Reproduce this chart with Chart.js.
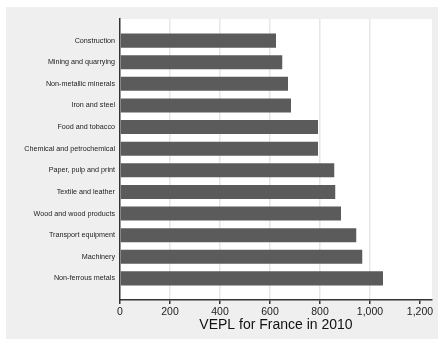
<!DOCTYPE html>
<html>
<head>
<meta charset="utf-8">
<script src="https://cdn.jsdelivr.net/npm/chart.js@4"></script>
<style>
  html, body { margin: 0; padding: 0; background: #fff; }
  #wrap { width: 438px; height: 340px; }
</style>
</head>
<body>
<div id="wrap"><canvas id="myChart" width="438" height="340"></canvas></div>
<script>
// sectors, top to bottom
const sectors = [
  'Construction',
  'Mining and quarrying',
  'Non-metallic minerals',
  'Iron and steel',
  'Food and tobacco',
  'Chemical and petrochemical',
  'Paper, pulp and print',
  'Textile and leather',
  'Wood and wood products',
  'Transport equipment',
  'Machinery',
  'Non-ferrous metals',
];
const vepl = [624, 649, 672, 684, 792, 792, 857, 861, 884, 945, 969, 1052];
const xTicks = [0, 200, 400, 600, 800, 1000, 1200];

const ctx = document.querySelector('#myChart').getContext('2d');

// grey page behind, white plot region
const backdrop = {
  id: 'backdrop',
  beforeDraw(chart) {
    const c = chart.ctx;
    const a = chart.chartArea;
    c.save();
    c.fillStyle = '#efefef';
    c.fillRect(6, 7, chart.width - 6, chart.height - 8);
    c.fillStyle = '#ffffff';
    c.fillRect(a.left, a.top, a.right - a.left, a.bottom - a.top);
    c.restore();
  },
};

const data = {
  datasets: [
    {
      data: vepl.map((v, i) => ({ x: v, y: i + 1 })),
      backgroundColor: '#5b5b5b',
      borderWidth: 0,
      barPercentage: 0.65,
      categoryPercentage: 1,
    },
  ],
};

const config = {
  type: 'bar',
  data: data,
  options: {
    indexAxis: 'y',
    responsive: false,
    animation: false,
    layout: { padding: { top: 19, right: 6, left: 0, bottom: 0 } },
    plugins: {
      legend: { display: false },
      tooltip: { enabled: false },
    },
    scales: {
      x: {
        type: 'linear',
        min: 0,
        max: 1248,
        afterBuildTicks: (scale) => {
          scale.ticks = xTicks.map((v) => ({ value: v }));
        },
        afterFit: (scale) => {
          scale.height = 40;
        },
        grid: {
          color: (c) =>
            c.tick && (c.tick.value === 0 || c.tick.value === 1200)
              ? 'rgba(0,0,0,0)'
              : '#e6e6e6',
          lineWidth: 1.5,
          tickColor: '#333',
          tickLength: 4,
        },
        border: { color: '#333', width: 1.5 },
        ticks: {
          color: '#222',
          padding: 2,
          maxRotation: 0,
          font: { family: 'Liberation Sans', size: 10.5 },
          callback: (value) => value.toLocaleString('en-US'),
        },
        title: {
          display: true,
          text: 'VEPL for France in 2010',
          color: '#111',
          padding: { top: 1, bottom: 6 },
          font: { family: 'Liberation Sans', size: 14 },
        },
      },
      y: {
        type: 'linear',
        reverse: true,
        offset: false,
        min: 0,
        max: 13,
        afterBuildTicks: (scale) => {
          scale.ticks = sectors.map((s, i) => ({ value: i + 1 }));
        },
        afterFit: (scale) => {
          scale.width = 120;
        },
        grid: {
          color: 'rgba(0,0,0,0)',
          drawTicks: false,
          offset: false,
        },
        border: { color: '#333', width: 1.5 },
        ticks: {
          autoSkip: false,
          color: '#222',
          padding: 5,
          font: { family: 'Liberation Sans', size: 7.2 },
          callback: (value) => sectors[value - 1] || '',
        },
      },
    },
  },
  plugins: [backdrop],
};

const myChart = new Chart(ctx, config);
</script>
</body>
</html>
